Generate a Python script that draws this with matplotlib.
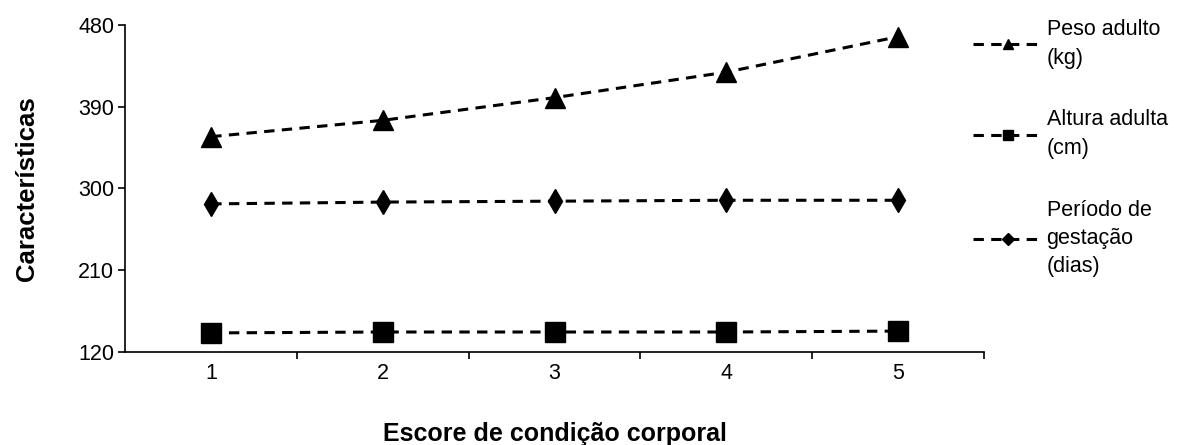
import numpy as np
import matplotlib
matplotlib.use("Agg")
import matplotlib.pyplot as plt
from matplotlib.lines import Line2D

plt.rcParams['font.family'] = ['Liberation Sans', 'DejaVu Sans']

# Escore de condição corporal
escore = [1, 2, 3, 4, 5]
peso_adulto = [357, 375, 400, 428, 467]      # kg
altura_adulta = [141, 142, 142, 142, 143]    # cm
periodo_gestacao = [283, 285, 286, 287, 287] # dias

yticks = [120, 210, 300, 390, 480]

series = [
    ("Peso adulto\n(kg)", peso_adulto, "^", 15, 7),
    ("Altura adulta\n(cm)", altura_adulta, "s", 14, 7),
    ("Período de\ngestação\n(dias)", periodo_gestacao, "d", 12, 6),
]

fig = plt.figure(figsize=(11.94, 4.45), dpi=100)
ax = fig.add_axes([0.105, 0.209, 0.719, 0.735])

dash = (3.4, 2.4)
handles = []
for label, vals, mk, ms, lms in series:
    ax.plot(escore, vals, color="black", lw=2.2, dashes=dash,
            marker=mk, markersize=ms, markerfacecolor="black",
            markeredgecolor="black", clip_on=False)
    handles.append(Line2D([0], [0], color="black", lw=2.2, dashes=dash,
                          marker="D" if mk == "d" else mk, markersize=lms,
                          markerfacecolor="black", markeredgecolor="black",
                          label=label))

ax.set_xlim(0.5, 5.5)
ax.set_ylim(120, 480)
ax.set_yticks(yticks)
ax.set_xticks(escore)
ax.set_xticks([1.5, 2.5, 3.5, 4.5, 5.5], minor=True)
ax.tick_params(axis="x", which="major", length=0, pad=8, labelsize=15.5)
ax.tick_params(axis="x", which="minor", length=5, width=1.2, direction="out")
ax.tick_params(axis="y", length=5, width=1.2, direction="out", pad=3, labelsize=15.5)

for s in ["top", "right"]:
    ax.spines[s].set_visible(False)
for s in ["left", "bottom"]:
    ax.spines[s].set_linewidth(1.2)

ax.set_xlabel("Escore de condição corporal", fontsize=18, fontweight="bold", labelpad=27)
ax.set_ylabel("Características", fontsize=18.5, fontweight="bold", labelpad=28)

leg = fig.legend(handles=handles, loc="upper left", bbox_to_anchor=(0.799, 1.0),
                 frameon=False, fontsize=15.5, handlelength=3.2, handletextpad=0.2,
                 labelspacing=1.9)
for t in leg.get_texts():
    t.set_linespacing(1.45)

fig.savefig("out.png", dpi=100)
